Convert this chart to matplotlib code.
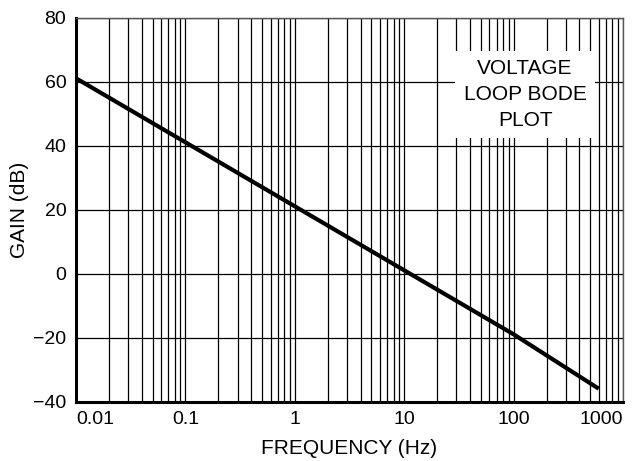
import matplotlib
matplotlib.use("Agg")
import matplotlib.pyplot as plt
from matplotlib.ticker import LogLocator, FixedLocator, NullFormatter

# values (gain falls ~20 dB per decade)
freq_hz = [0.01, 0.1, 1, 10, 100, 600]
gain_db = [61, 41, 21, 1, -19, -36]

x_ticks = [0.01, 0.1, 1, 10, 100, 1000]
x_labels = ["0.01", "0.1", "1", "10", "100", "1000"]
y_ticks = [-40, -20, 0, 20, 40, 60, 80]
y_labels = ["\u221240", "\u221220", "0", "20", "40", "60", "80"]

plt.rcParams["font.family"] = ["Liberation Sans", "DejaVu Sans"]
FS_TICK = 14
FS_LABEL = 15

fig = plt.figure(figsize=(6.39, 4.61), dpi=100)
ax = fig.add_axes([0.119, 0.129, 0.856, 0.833])

ax.plot(freq_hz, gain_db, color="black", lw=3, solid_capstyle="butt", zorder=3)

ax.set_xscale("log")
ax.set_xlim(0.01, 1000)
ax.set_ylim(-40, 80)

ax.xaxis.set_major_locator(FixedLocator(x_ticks))
ax.set_xticklabels(x_labels, fontsize=FS_TICK)
ax.xaxis.set_minor_locator(LogLocator(base=10, subs=range(2, 10), numticks=20))
ax.xaxis.set_minor_formatter(NullFormatter())
ax.set_yticks(y_ticks)
ax.set_yticklabels(y_labels, fontsize=FS_TICK)

# first and last frequency labels sit inside the axis ends
xt = ax.get_xticklabels()
xt[0].set_ha("left")
xt[-1].set_ha("right")

ax.tick_params(which="both", length=0, pad=7)
ax.grid(which="both", axis="x", color="black", lw=0.9)
ax.grid(which="major", axis="y", color="black", lw=0.9)

for side in ["left", "bottom"]:
    ax.spines[side].set_linewidth(2.2)
    ax.spines[side].set_color("black")
for side in ["top", "right"]:
    ax.spines[side].set_linewidth(1.0)
    ax.spines[side].set_color("#555555")

ax.set_xlabel("FREQUENCY (Hz)", fontsize=FS_LABEL, labelpad=8)
ax.set_ylabel("GAIN (dB)", fontsize=FS_LABEL, labelpad=3)

ax.text(0.821, 0.800, "VOLTAGE\nLOOP BODE\nPLOT", transform=ax.transAxes,
        ha="center", va="center", fontsize=FS_LABEL, linespacing=1.45, zorder=4,
        bbox=dict(facecolor="white", edgecolor="none", boxstyle="square,pad=0.4"))

fig.savefig("out.png", dpi=100)
